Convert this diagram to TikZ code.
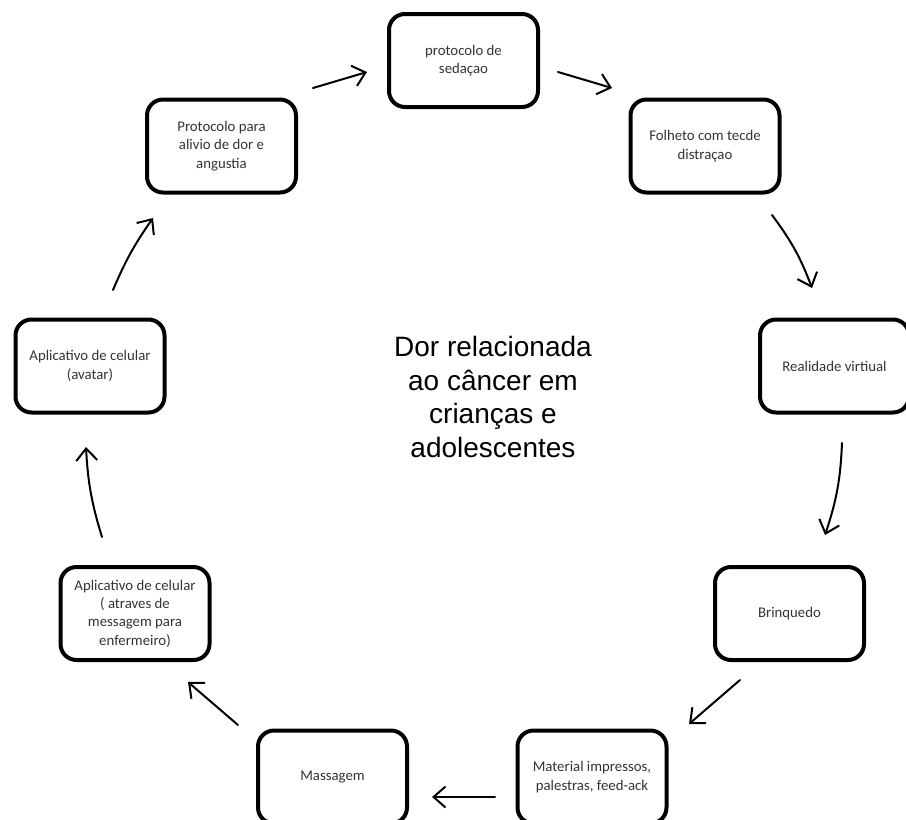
\documentclass[tikz,border=0pt]{standalone}
\usepackage{fontspec}
\setmainfont{Carlito}
\newfontfamily\themefont{Liberation Sans}
\usetikzlibrary{arrows.meta}
\begin{document}
\begin{tikzpicture}[x=1pt,y=1pt,
  stage/.style={draw, line width=4pt, rounded corners=16pt,
    minimum width=149pt, minimum height=93pt, inner sep=0pt,
    align=center, text=black!80, font=\fontsize{14.8}{18.3}\selectfont},
  flow/.style={line width=2pt, line cap=round,
    -{Straight Barb[length=12pt,width=21pt]}}]
\useasboundingbox (0,0) rectangle (906,-820);
\clip (0,0) rectangle (906,-820);

% activities arranged around the cycle
\node[stage] (sed)  at (463.5,-60.5) {protocolo de\\sedaçao};
\node[stage] (fol)  at (705,-146)    {Folheto com tecde\\distraçao};
\node[stage] (real) at (834.5,-366)  {Realidade virtiual};
\node[stage] (brin) at (789.5,-613.5){Brinquedo};
\node[stage] (mat)  at (592,-777)    {Material impressos,\\palestras, feed-ack};
\node[stage] (mas)  at (332.5,-777)  {Massagem};
\node[stage] (appb) at (135,-613.5)  {Aplicativo de celular\\( atraves de\\messagem para\\enfermeiro)};
\node[stage] (appa) at (90,-366)     {Aplicativo de celular\\(avatar)};
\node[stage] (prot) at (221.5,-146)  {Protocolo para\\alivio de dor e\\angustia};

% central theme
\node[font=\themefont\fontsize{28}{33.5}\selectfont, align=center] (theme)
  at (493,-397) {Dor relacionada\\ao câncer em\\crianças e\\adolescentes};

% arrow end points between neighbouring boxes
\coordinate (protOut) at (313,-88);  \coordinate (sedIn)  at (367,-72);
\coordinate (sedOut)  at (558,-72);  \coordinate (folIn)  at (612,-88);
\coordinate (folOut)  at (772,-215); \coordinate (realIn) at (812,-288);
\coordinate (realOut) at (842,-443); \coordinate (brinIn) at (825,-535);
\coordinate (brinOut) at (740,-680); \coordinate (matIn)  at (689,-724);
\coordinate (matOut)  at (495,-797); \coordinate (masIn)  at (432,-797);
\coordinate (masOut)  at (238,-725); \coordinate (appbIn) at (188,-682);
\coordinate (appbOut) at (102,-537); \coordinate (appaIn) at (86,-447);
\coordinate (appaOut) at (113,-290); \coordinate (protIn) at (153,-218);

\draw[flow] (protOut) -- (sedIn);
\draw[flow] (sedOut) -- (folIn);
\draw[flow] (folOut) to[bend left=8] (realIn);
\draw[flow] (realOut) to[bend left=8] (brinIn);
\draw[flow] (brinOut) -- (matIn);
\draw[flow] (matOut) -- (masIn);
\draw[flow] (masOut) -- (appbIn);
\draw[flow] (appbOut) to[bend left=7] (appaIn);
\draw[flow] (appaOut) to[bend left=6] (protIn);
\end{tikzpicture}
\end{document}
